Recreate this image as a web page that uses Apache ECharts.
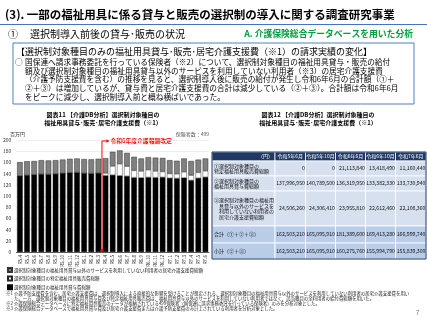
<!DOCTYPE html>
<html><head><meta charset="utf-8">
<script src="https://cdn.jsdelivr.net/npm/echarts@6/dist/echarts.min.js"></script>
<style>html,body{margin:0;padding:0;background:#fff}#c{width:427px;height:320px}</style>
</head><body><div id="c"></div>
<script>
// ---- data ----
const months = ['R5.4','R5.5','R5.6','R5.7','R5.8','R5.9','R5.10','R5.11','R5.12','R6.1','R6.2','R6.3','R6.4','R6.5','R6.6','R6.7','R6.8','R6.9','R6.10','R6.11','R6.12','R7.1','R7.2','R7.3','R7.4','R7.5','R7.6'];
const rentalValues = [136,137,138,139,138.5,139.5,140.8,141.5,142,140.5,140,141,136.5,137.5,136.3,135.5,133,132.5,133.4,133,133.5,132,131.5,132.5,128,132,133.7];
const salesValues  = [0,0,0,0,0,0,0,0,0,0,0,0,4.5,16,21.1,17.5,12.5,12,13.4,11.5,10,8,8,10.5,9,10,11.2];
const careValues   = [24.5,25,24.5,25,25,24.5,24.3,25,25,25.5,25.5,25.5,26.5,25.5,24,24,24.5,22.5,22.6,24,24.5,24,23.5,24,25.5,23,22.1];
const seriesNames = ['選択制対象種目の福祉用具貸与以外のサービスを利用していない利用者の居宅介護支援費総額','選択制対象種目の特定福祉用具販売費総額','選択制対象種目の福祉用具貸与費総額'];
const yTicks = [0,20,40,60,80,100,120,140,160,180,200];

const tableCols = ['令和5年6月','令和5年10月','令和6年6月','令和6年10月','令和7年6月'];
const tableRowLabels = [['①選択制対象種目の','特定福祉用具販売費総額'],['②選択制対象種目の','福祉用具貸与費総額'],['③選択制対象種目の福祉用','　具貸与以外のサービスを','　利用していない利用者の','　居宅介護支援費総額'],['合計（①＋②＋③）'],['小計（②＋③）']];
const tableSales    = [0,0,21113840,13418490,11160440];
const tableRental   = [137996950,140789500,136319950,133382330,133730940];
const tableCare     = [24506260,24306410,23955810,22612460,22108360];
const tableTotal    = [162503210,165095910,181389600,169413280,166999740];
const tableSubtotal = [162503210,165095910,160275760,155994790,155839300];

const bodyLines = [
 '国保連へ請求事務委託を行っている保険者（※2）について、選択制対象種目の福祉用具貸与・販売の給付',
 '額及び選択制対象種目の福祉用具貸与以外のサービスを利用していない利用者（※3）の居宅介護支援費',
 '（介護予防支援費を含む）の推移を見ると、選択制導入後に販売の給付が発生し令和6年6月の合計額（①＋',
 '②＋③）は増加しているが、貸与費と居宅介護支援費の合計は減少している（②＋③）。合計額は令和6年6月',
 'をピークに減少し、選択制導入前と概ね横ばいであった。'
];
const footnotes = [
 ['※1','介護予防支援費を含む。居宅介護支援費は、選択制導入による直接的な影響を受けることが想定される、選択制対象種目の福祉用具貸与以外のサービスを利用していない利用者の居宅介護支援費を用い'],
 ['','た。一方、選択制対象種目の福祉用具貸与費及び特定福祉用具販売費は、福祉用具貸与以外のサービスを利用していない利用者ではなく、該当種目の全利用者の給付費総額を用いた。'],
 ['※2','介護保険総合データベースに特定福祉用具販売のデータが格納されている499保険者（国保連に請求事務委託を行っている保険者）のみを分析対象とした。'],
 ['※3','介護保険総合データベースで福祉用具貸与費及び居宅介護支援費または介護予防支援費のみ計上されている利用者を分析対象とした。']
];

// ---- layout ----
const FONT = '"Noto Sans CJK JP","Noto Sans",sans-serif';
const chart = echarts.init(document.getElementById('c'), null, {renderer:'canvas'});
const fmt = v => v.toLocaleString('en-US');

function T(x,y,text,o){ return {type:'text',x:x,y:y,silent:true,style:Object.assign({text:text,font:(o&&o.font)||('8px '+FONT),fill:'#000',textAlign:'left',textVerticalAlign:'middle'},o||{})}; }

const g = [];
g.push(T(5,15,'(3). 一部の福祉用具に係る貸与と販売の選択制の導入に関する調査研究事業',{font:'bold 11.5px '+FONT}));
g.push({type:'line',silent:true,shape:{x1:0,y1:24.5,x2:427,y2:24.5},style:{stroke:'#4472c4',lineWidth:1.2}});
g.push(T(8,34,'①',{font:'10px '+FONT}));
g.push(T(30,34,'選択制導入前後の貸与･販売の状況',{font:'10px '+FONT}));
g.push(T(413,34,'A. 介護保険総合データベースを用いた分析',{font:'bold 8.8px '+FONT,fill:'#00a040',textAlign:'right'}));
g.push({type:'rect',silent:true,shape:{x:13,y:43,width:401,height:61},style:{fill:'none',stroke:'#4f81bd',lineWidth:1}});
g.push(T(16,52,'【選択制対象種目のみの福祉用具貸与･販売･居宅介護支援費（※1）の請求実績の変化】',{font:'9px '+FONT}));
g.push(T(15,61.7,'○',{font:'7.7px '+FONT}));
bodyLines.forEach((t,i)=>g.push(T(25,61.7+i*8.9,t,{font:'7.7px '+FONT})));

g.push(T(103,115,'図表11 【介護DB分析】選択制対象種目の',{font:'bold 6px '+FONT,textAlign:'center'}));
g.push(T(103,123,'福祉用具貸与･販売･居宅介護支援費（※1）',{font:'bold 6px '+FONT,textAlign:'center'}));
g.push(T(318,115,'図表12 【介護DB分析】選択制対象種目の',{font:'bold 6px '+FONT,textAlign:'center'}));
g.push(T(318,123,'福祉用具貸与･販売･居宅介護支援費（※1）',{font:'bold 6px '+FONT,textAlign:'center'}));
g.push(T(10,134.5,'百万円',{font:'5px '+FONT,fill:'#333'}));
g.push(T(209,134.5,'保険者数：499',{font:'5px '+FONT,fill:'#555',textAlign:'right'}));

// table
const colEdges = [212,275,305.5,335.5,365.5,395.5,426];
const rowEdges = [152,161,176,191,226,243,259];
const tableValues = [tableSales,tableRental,tableCare,tableTotal,tableSubtotal];
for(let r=0;r<rowEdges.length-1;r++){
  for(let c=0;c<colEdges.length-1;c++){
    let fill = r===0 ? '#1f3864' : (r>=4 ? '#b9cde8' : '#d6e0ef');
    g.push({type:'rect',silent:true,shape:{x:colEdges[c],y:rowEdges[r],width:colEdges[c+1]-colEdges[c],height:rowEdges[r+1]-rowEdges[r]},style:{fill:fill,stroke:'#ffffff',lineWidth:0.8}});
  }
}
g.push({type:'rect',silent:true,shape:{x:212,y:rowEdges[0],width:214,height:rowEdges[6]-rowEdges[0]},style:{fill:'none',stroke:'#1f3864',lineWidth:1}});
g.push(T(colEdges[1]-2,(rowEdges[0]+rowEdges[1])/2,'（円）',{font:'5px '+FONT,fill:'#fff',textAlign:'right'}));
tableCols.forEach((t,c)=>g.push(T((colEdges[c+1]+colEdges[c+2])/2,(rowEdges[0]+rowEdges[1])/2,t,{font:'5px '+FONT,fill:'#fff',textAlign:'center'})));
tableRowLabels.forEach((lines,r)=>{
  const yc=(rowEdges[r+1]+rowEdges[r+2])/2, lh=5.6;
  lines.forEach((t,k)=>g.push(T(colEdges[0]+2,yc+(k-(lines.length-1)/2)*lh,t,{font:'5px '+FONT,fill:'#111'})));
  tableValues[r].forEach((v,c)=>g.push(T(colEdges[c+2]-0.5,yc,fmt(v),{font:'5.2px '+FONT,fill:'#111',textAlign:'right'})));
});

// footnotes
footnotes.forEach((f,i)=>{
  const y=[293,298,303,308.5][i];
  if(f[0]) g.push(T(6,y,f[0],{font:'4.4px '+FONT,fill:'#222'}));
  g.push(T(14,y,f[1],{font:'4.4px '+FONT,fill:'#222'}));
});
g.push(T(416,313,'7',{font:'6px '+FONT,fill:'#666'}));

const option = {
  animation:false,
  backgroundColor:'#fff',
  textStyle:{fontFamily:FONT},
  grid:{left:16,right:218,top:140,bottom:68,containLabel:false},
  legend:{orient:'vertical',left:7,top:267,itemWidth:4,itemHeight:4,itemGap:2.6,padding:0,
    data:[{name:seriesNames[0],icon:'rect'},{name:seriesNames[1],icon:'rect'},{name:seriesNames[2],icon:'rect'}],
    textStyle:{fontSize:4.5,color:'#222',padding:[0,0,0,-3]}},
  xAxis:{type:'category',data:months,
    axisLine:{show:true,lineStyle:{color:'#000',width:0.6}},axisTick:{show:false},
    axisLabel:{rotate:90,interval:0,fontSize:4.6,color:'#333',margin:3}},
  yAxis:{type:'value',min:yTicks[0],max:yTicks[yTicks.length-1],interval:20,
    axisLine:{show:false},axisTick:{show:false},
    axisLabel:{fontSize:5,color:'#333',margin:5},
    splitLine:{show:true,lineStyle:{color:'#e3e3e3',width:0.6}}},
  series:[
    {name:seriesNames[2],type:'bar',stack:'s',data:rentalValues,barCategoryGap:'22%',itemStyle:{color:'#000',borderColor:'#000',borderWidth:0.4}},
    {name:seriesNames[1],type:'bar',stack:'s',data:salesValues,itemStyle:{color:'#fff',borderColor:'#222',borderWidth:0.4}},
    {name:seriesNames[0],type:'bar',stack:'s',data:careValues,itemStyle:{color:'#808080',borderColor:'#333',borderWidth:0.5}}
  ],
  graphic:g
};
chart.setOption(option);

// revision annotation between R6.3 and R6.4
const p1 = chart.convertToPixel({xAxisIndex:0,yAxisIndex:0},[11,0]);
const p2 = chart.convertToPixel({xAxisIndex:0,yAxisIndex:0},[12,0]);
const pTop = chart.convertToPixel({xAxisIndex:0,yAxisIndex:0},[12,200]);
const xr = (p1[0]+p2[0])/2, yb = p1[1], yt = pTop[1]+1;
const ann = [
  {type:'polyline',silent:true,z:100,shape:{points:[[xr,yb],[xr,yt],[xr+5,yt]]},style:{stroke:'#ff0000',lineWidth:1,fill:'none'}},
  {type:'polygon',silent:true,z:100,shape:{points:[[xr+4.5,yt-1.8],[xr+7.5,yt],[xr+4.5,yt+1.8]]},style:{fill:'#ff0000'}},
  {type:'circle',silent:true,z:100,shape:{cx:xr,cy:yb-1.5,r:1.7},style:{fill:'#ff0000'}},
  T(xr+8.5,yt,'令和6年度介護報酬改定',{font:'bold 5.8px '+FONT,fill:'#ff0000'})
];
chart.setOption({graphic:g.concat(ann)});
</script></body></html>
